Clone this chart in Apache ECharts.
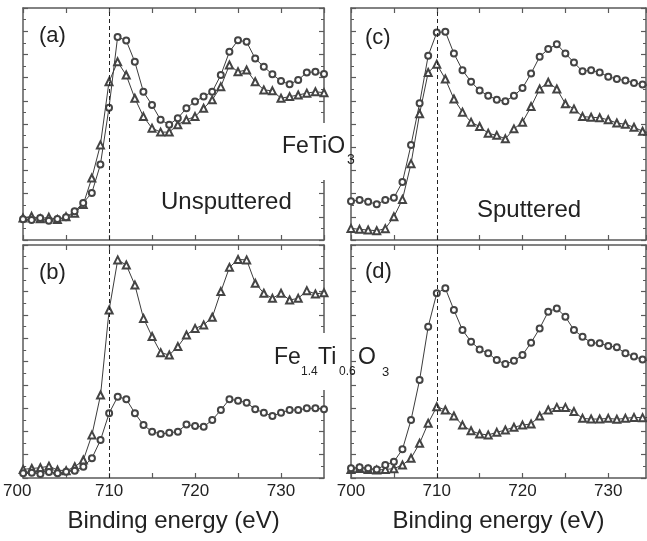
<!DOCTYPE html>
<html><head><meta charset="utf-8">
<script src="https://cdn.jsdelivr.net/npm/echarts@6/dist/echarts.min.js"></script>
<style>html,body{margin:0;padding:0;background:#fff}#c{width:647px;height:541px}</style>
</head><body><div id="c"></div>
<script>
// Binding energy (eV) of each data point
const energies = [700,701,702,703,704,705,706,707,708,709,710,711,712,713,714,715,716,717,718,719,720,721,722,723,724,725,726,727,728,729,730,731,732,733,734,735];
const xTickLabels = [700,710,720,730];
const xTitle = 'Binding energy (eV)';

// (a) FeTiO3 unsputtered
const aCircles   = [0.89,0.86,0.95,0.83,0.90,0.98,1.24,1.60,2.03,3.25,5.70,8.75,8.60,7.68,6.39,5.82,5.18,4.97,5.25,5.68,5.97,6.18,6.39,7.11,8.11,8.61,8.54,7.82,7.47,7.14,6.85,6.71,6.90,7.22,7.25,7.15];
const aTriangles = [0.95,1.02,0.92,0.98,0.88,1.00,1.15,1.53,2.67,4.10,6.82,7.68,7.11,6.11,5.32,4.82,4.65,4.65,4.97,5.18,5.32,5.68,6.04,6.61,7.54,7.25,7.33,6.82,6.47,6.43,6.11,6.18,6.25,6.33,6.39,6.35];
// (b) Fe1.4Ti0.6O3 unsputtered
const bCircles   = [0.20,0.23,0.17,0.26,0.20,0.27,0.31,0.48,0.85,1.63,2.78,3.49,3.38,2.78,2.27,1.99,1.89,1.94,1.99,2.30,2.23,2.20,2.49,2.92,3.38,3.32,3.23,2.95,2.80,2.66,2.80,2.92,2.92,2.99,2.99,2.95];
const bTriangles = [0.37,0.41,0.44,0.51,0.34,0.31,0.48,0.77,1.85,3.56,7.21,9.36,9.14,8.28,6.85,6.07,5.38,5.28,5.64,6.14,6.42,6.57,6.90,8.00,9.04,9.38,9.36,8.36,7.93,7.71,7.93,7.64,7.71,8.04,7.90,7.95];
// (c) FeTiO3 sputtered
const cCircles   = [1.67,1.72,1.65,1.54,1.72,1.82,2.50,4.10,5.89,7.94,8.94,8.98,8.04,7.32,6.82,6.44,6.22,6.05,5.98,6.22,6.55,7.18,7.90,8.23,8.44,8.04,7.65,7.27,7.32,7.22,7.04,6.94,6.87,6.77,6.70,6.65];
const cTriangles = [0.50,0.46,0.43,0.40,0.49,1.00,1.75,3.29,5.44,7.22,7.58,6.94,6.08,5.51,5.08,4.89,4.60,4.51,4.36,4.79,5.08,5.75,6.51,6.80,6.51,5.87,5.65,5.32,5.29,5.27,5.18,5.04,4.99,4.86,4.69,4.60];
// (d) Fe1.4Ti0.6O3 sputtered
const dCircles   = [0.42,0.46,0.42,0.37,0.56,0.70,1.23,2.49,4.21,6.49,7.93,8.14,7.21,6.35,5.85,5.52,5.35,5.06,4.89,5.03,5.28,5.81,6.42,7.14,7.28,6.92,6.35,6.06,5.81,5.78,5.67,5.61,5.35,5.21,5.09,5.00];
const dTriangles = [0.37,0.41,0.37,0.34,0.37,0.40,0.56,0.85,1.49,2.35,3.06,2.92,2.66,2.27,2.03,1.89,1.85,1.96,2.06,2.18,2.27,2.32,2.66,2.92,3.03,3.03,2.85,2.56,2.53,2.53,2.56,2.52,2.56,2.60,2.59,2.59];
const referenceEnergy = 710;

const FONT = "'Liberation Sans', Arial, Helvetica, sans-serif";
const AXC = '#5a5a5a';
const TXT = '#222';

const panels = [
  {grid:{left:23, top:8,   width:301, height:232}, xMax:735,   circles:aCircles, triangles:aTriangles, labels:false},
  {grid:{left:23, top:245, width:301, height:233}, xMax:735,   circles:bCircles, triangles:bTriangles, labels:true, shiftFirst:true},
  {grid:{left:351,top:8,   width:295, height:232}, xMax:734.4, circles:cCircles, triangles:cTriangles, labels:false},
  {grid:{left:351,top:245, width:295, height:233}, xMax:734.4, circles:dCircles, triangles:dTriangles, labels:true}
];

const grids = [], xAxes = [], yAxes = [], series = [];
panels.forEach((p, i) => {
  grids.push(Object.assign({containLabel:false}, p.grid));
  const common = {
    type:'value', min:700, max:p.xMax, interval:5, gridIndex:i,
    axisLine:{show:true, onZero:false, lineStyle:{color:AXC, width:1.5}},
    axisTick:{show:true, inside:true, length:5, lineStyle:{color:AXC, width:1.2}},
    splitLine:{show:false}
  };
  xAxes.push(Object.assign({}, common, {
    position:'bottom',
    axisLabel:{show:p.labels, margin:5, fontSize:17, fontFamily:FONT, color:TXT, showMaxLabel:false,
      formatter:(v)=> xTickLabels.indexOf(v) >= 0 ? ((p.shiftFirst && v === xTickLabels[0]) ? '{m|' + v + '}' : String(v)) : '',
      rich:{m:{fontSize:17, fontFamily:FONT, color:TXT, padding:[0,12,0,0]}}},
    name: p.labels ? xTitle : '', nameLocation:'middle', nameGap:31,
    nameTextStyle:{fontSize:24, fontFamily:FONT, color:TXT}
  }));
  xAxes.push(Object.assign({}, common, {position:'top', axisLabel:{show:false}}));
  const ycommon = {
    type:'value', min:0, max:10, interval:1, gridIndex:i,
    axisLine:{show:true, onZero:false, lineStyle:{color:AXC, width:1.5}},
    axisTick:{show:true, inside:true, length:5, lineStyle:{color:AXC, width:1.2}},
    minorTick:{show:true, splitNumber:2, length:3, lineStyle:{color:AXC, width:1}},
    axisLabel:{show:false}, splitLine:{show:false}, minorSplitLine:{show:false}
  };
  yAxes.push(Object.assign({}, ycommon, {position:'left'}));
  yAxes.push(Object.assign({}, ycommon, {position:'right'}));

  const mk = (arr, sym, size, withLine) => {
    const s = {
      type:'line', xAxisIndex:i*2, yAxisIndex:i*2,
      data: energies.map((e,k)=>[e, arr[k]]),
      symbol:sym, symbolSize:size, showAllSymbol:true,
      lineStyle:{color:'#3c3c3c', width:1},
      itemStyle:{color:'#444', borderWidth:1},
      emphasis:{disabled:true}, silent:true, z:3
    };
    if (withLine) {
      s.markLine = {silent:true, symbol:['none','none'], label:{show:false},
        lineStyle:{color:'#222', type:[4,3], width:1},
        emphasis:{disabled:true}, data:[{xAxis:referenceEnergy}]};
    }
    return s;
  };
  series.push(mk(p.triangles, 'emptyTriangle', 7, true));
  series.push(mk(p.circles, 'emptyCircle', 6, false));
});

const txt = (text, x, y, size) => ({type:'text', x:x, y:y, z:60, silent:true,
  style:{text:text, fontSize:size, fontFamily:FONT, fill:TXT, align:'left', verticalAlign:'middle'}});

const graphic = [
  {type:'rect', shape:{x:278, y:123, width:62, height:57}, style:{fill:'#fff'}, z:50, silent:true},
  {type:'rect', shape:{x:268, y:333, width:74, height:57}, style:{fill:'#fff'}, z:50, silent:true},
  txt('(a)', 39, 36, 22),
  txt('(b)', 39, 273, 22),
  txt('(c)', 365, 38, 22),
  txt('(d)', 365, 272, 22),
  txt('Unsputtered', 161, 202, 24),
  txt('Sputtered', 477, 210, 24),
  txt('FeTiO', 282, 147, 23),
  txt('3', 347, 160, 14),
  txt('Fe', 274, 358, 23),
  txt('1.4', 301, 372, 12),
  txt('Ti', 318, 358, 23),
  txt('0.6', 339, 372, 12),
  txt('O', 358, 358, 23),
  txt('3', 382, 372, 13)
];

const chart = echarts.init(document.getElementById('c'), null, {renderer:'canvas'});
chart.setOption({
  backgroundColor:'#fff', animation:false,
  grid:grids, xAxis:xAxes, yAxis:yAxes, series:series, graphic:graphic
});
</script></body></html>
